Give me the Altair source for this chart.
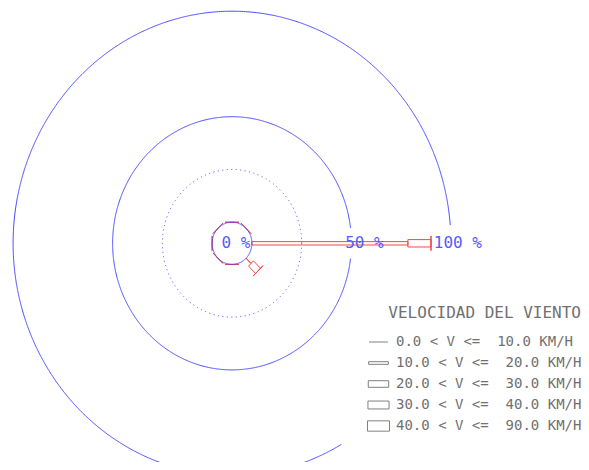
import altair as alt
import pandas as pd

# ---------------- data ----------------
DIRECTIONS = ["N", "NE", "E", "SE", "S", "SW", "W", "NW"]
BEARINGS = [0, 45, 90, 135, 180, 225, 270, 315]
CLASS_LO = [0.0, 10.0, 20.0, 30.0, 40.0]
CLASS_HI = [10.0, 20.0, 30.0, 40.0, 90.0]
FREQ_0_10 = [0, 0, 0.0, 3.5, 0, 0, 0, 0]
FREQ_10_20 = [0, 0, 78.4, 0.0, 0, 0, 0, 0]
FREQ_20_30 = [0, 0, 11.6, 5.0, 0, 0, 0, 0]
FREQ_30_40 = [0, 0, 0, 0, 0, 0, 0, 0]
FREQ_40_90 = [0, 0, 0, 0, 0, 0, 0, 0]
RING_PCTS = [0, 25, 50, 100]
LABEL_PCTS = [0, 50, 100]
LABEL_TEXT = ["0 %", "50 %", "100 %"]

# ---------------- style ----------------
BLUE = "#4646ff"
RED = "#f04848"
GRAY = "#707070"
CALM_R = 10.0                      # radius of the 0 % circle, in % units
CLASS_HALF_W = [0, 0.8, 1.75, 2.2, 2.7]
CAP_HALF = 3.5
RING_ARCS = [(0, 360), (0, 360), (7, 353), (4.5, 300)]   # math degrees
RING_DASH = [[1, 0], [1, 3.5], [1, 0], [1, 0]]
LABEL_DX = [-16, 13, 7]
W, H = 573, 454
KX, KY = 1.99, 2.11
CX, CY = 224.0, 235.3
XDOM = [-CX / KX, (W - CX) / KX]
YDOM = [(CY - H) / KY, CY / KY]

xs = alt.Scale(domain=XDOM, nice=False, zero=False)
ys = alt.Scale(domain=YDOM, nice=False, zero=False)

class_labels = [
    f"{lo:>4.1f} < V <= {hi:>5.1f} KM/H".replace(" ", "\u00a0")
    for lo, hi in zip(CLASS_LO, CLASS_HI)
]
freqs = [FREQ_0_10, FREQ_10_20, FREQ_20_30, FREQ_30_40, FREQ_40_90]

rows = []
sid = 0
for i, (d, b) in enumerate(zip(DIRECTIONS, BEARINGS)):
    cum = 0.0
    for c in range(5):
        f = freqs[c][i]
        if f > 0:
            rows.append(dict(seg=sid, dir=d, bearing=b, start=cum, end=cum + f,
                             hw=CLASS_HALF_W[c]))
            sid += 1
            cum += f
    # end cap
    rows.append(dict(seg=sid, dir=d, bearing=b, start=cum, end=cum, hw=CAP_HALF))
    sid += 1
segs = pd.DataFrame(rows)

bars = (
    alt.Chart(segs)
    .transform_calculate(k="[0,1,2,3,4]")
    .transform_flatten(["k"])
    .transform_calculate(
        along="(datum.k==1||datum.k==2) ? datum.end : datum.start",
        across="(datum.k<=1||datum.k==4) ? -datum.hw : datum.hw",
    )
    .transform_calculate(
        r=f"{CALM_R} + datum.along",
        t="datum.bearing*PI/180",
    )
    .transform_calculate(
        px="datum.r*sin(datum.t) + datum.across*cos(datum.t)",
        py="datum.r*cos(datum.t) - datum.across*sin(datum.t)",
    )
    .mark_line(color=RED, strokeWidth=1)
    .encode(
        x=alt.X("px:Q", scale=xs, axis=None),
        y=alt.Y("py:Q", scale=ys, axis=None),
        order=alt.Order("k:Q"),
        detail="seg:N",
    )
)

rings = []
for pct, (a0, a1), dash in zip(RING_PCTS, RING_ARCS, RING_DASH):
    R = CALM_R + pct
    rings.append(
        alt.Chart(alt.sequence(a0, a1 + 0.5, 0.5, as_="a"))
        .transform_calculate(
            px=f"{R}*cos(datum.a*PI/180)",
            py=f"{R}*sin(datum.a*PI/180)",
        )
        .mark_line(color=BLUE, strokeWidth=1, strokeDash=dash)
        .encode(
            x=alt.X("px:Q", scale=xs, axis=None),
            y=alt.Y("py:Q", scale=ys, axis=None),
            order=alt.Order("a:Q"),
        )
    )

labels = []
for pct, txt, dx in zip(LABEL_PCTS, LABEL_TEXT, LABEL_DX):
    df = pd.DataFrame({"px": [CALM_R + pct], "py": [0.0], "txt": [txt]})
    labels.append(
        alt.Chart(df)
        .mark_text(font="DejaVu Sans Mono", fontSize=16, color="#5a5aff",
                   align="center", baseline="middle", dx=dx)
        .encode(
            x=alt.X("px:Q", scale=xs, axis=None),
            y=alt.Y("py:Q", scale=ys, axis=None),
            text="txt:N",
        )
    )

SYMBOL_PATHS = [
    "M-0.86,0H0.86",
    "M-0.9,-0.12H0.9V0.12H-0.9Z",
    "M-0.93,-0.3H0.93V0.3H-0.93Z",
    "M-0.96,-0.36H0.96V0.36H-0.96Z",
    "M-1,-0.47H1V0.47H-1Z",
]
leg_df = pd.DataFrame({"cls": class_labels})
legend_layer = (
    alt.Chart(leg_df)
    .mark_point(opacity=0)
    .encode(
        x=alt.value(0),
        y=alt.value(0),
        shape=alt.Shape(
            "cls:N",
            scale=alt.Scale(domain=class_labels, range=SYMBOL_PATHS),
            legend=alt.Legend(
                orient="none", legendX=359, legendY=296.5,
                title="VELOCIDAD DEL VIENTO",
                titleFont="DejaVu Sans Mono", titleFontSize=16,
                titleFontWeight="normal", titleColor=GRAY,
                titleAnchor="end", titlePadding=10, titleLimit=400,
                labelFont="DejaVu Sans Mono", labelFontSize=14,
                labelColor=GRAY, labelLimit=400, labelOffset=6,
                symbolSize=484, symbolStrokeColor="#808080",
                symbolFillColor="transparent", symbolStrokeWidth=1,
                symbolOpacity=1, rowPadding=2, padding=0,
            ),
        ),
    )
)

chart = (
    alt.layer(bars, *rings, *labels, legend_layer)
    .properties(width=W, height=H, padding=0,
                autosize=alt.AutoSizeParams(type="none"))
    .configure_view(stroke=None)
)

chart.save("out.html", embed_options={"renderer": "svg", "actions": False})
